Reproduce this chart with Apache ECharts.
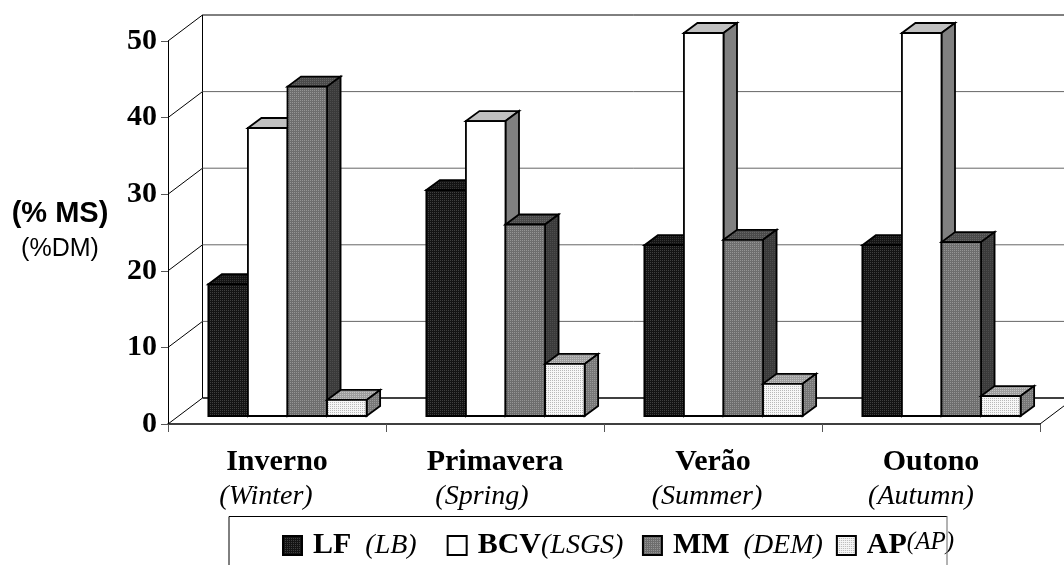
<!DOCTYPE html>
<html><head><meta charset="utf-8">
<style>html,body{margin:0;padding:0;background:#fff}#c{width:1064px;height:565px}</style>
<script src="https://cdn.jsdelivr.net/npm/echarts@6/dist/echarts.min.js"></script>
</head><body><div id="c"></div>
<script>
const seasons = ['Inverno','Primavera','Verão','Outono'];
const seasonsEn = ['(Winter)','(Spring)','(Summer)','(Autumn)'];
const tickValues = [0,10,20,30,40,50];
const LF  = [17.2,29.5,22.3,22.3];
const BCV = [37.6,38.5,50,50];
const MM  = [43,25,23,22.7];
const AP  = [2.1,6.8,4.2,2.6];

// dithered fill tiles
function tile(bg, dot){
  const c=document.createElement('canvas');c.width=2;c.height=2;
  const x=c.getContext('2d');x.fillStyle=bg;x.fillRect(0,0,2,2);
  x.fillStyle=dot;x.fillRect(0,0,1,1);
  return {image:c,repeat:'repeat'};
}
const looks = [
 {front:tile('#141414','#404040'), top:tile('#141414','#363636'), side:tile('#101010','#303030')},
 {front:'#ffffff', top:'#c0c0c0', side:'#808080'},
 {front:tile('#6e6e6e','#959595'), top:tile('#4a4a4a','#666'), side:tile('#3a3a3a','#4c4c4c')},
 {front:tile('#f6f6f6','#b8b8b8'), top:tile('#9c9c9c','#c4c4c4'), side:tile('#777','#999')}
];
const wallDx=34.5, wallDy=26, frontDx=10.5, frontDy=8, barDx=13.5, barDy=10, barShare=0.1815;

function barRender(idx){
  return function(params,api){
    const cat=api.value(0), v=api.value(1);
    const band=api.size([1,0])[0];
    const w=band*barShare;
    const base=api.coord([cat,0]), tp=api.coord([cat,v]);
    const x0=base[0]-2*w+frontDx+(idx*w), x1=x0+w, yb=base[1]-frontDy, yt=tp[1]-frontDy;
    const lk=looks[idx];
    const st=f=>({fill:f,stroke:'#000',lineWidth:1.8,lineJoin:'miter'});
    return {type:'group',children:[
      {type:'polygon',shape:{points:[[x0,yt],[x0+barDx,yt-barDy],[x1+barDx,yt-barDy],[x1,yt]]},style:st(lk.top)},
      {type:'polygon',shape:{points:[[x1,yt],[x1+barDx,yt-barDy],[x1+barDx,yb-barDy],[x1,yb]]},style:st(lk.side)},
      {type:'rect',shape:{x:x0,y:yt,width:w,height:yb-yt},style:st(lk.front)}
    ]};
  };
}
function wallRender(params,api){
  const v=api.value(0);
  const a=api.coord([0,v]);
  const left=params.coordSys.x, right=left+params.coordSys.width;
  const y=a[1];
  const kids=[
    {type:'line',shape:{x1:left,y1:y,x2:left+wallDx,y2:y-wallDy},style:{stroke:'#000',lineWidth:1}},
    {type:'line',shape:{x1:left+wallDx,y1:y-wallDy,x2:right+wallDx,y2:y-wallDy},
     style:{stroke:(v===0||v===50)?'#000':'#666',lineWidth:(v===0)?1.6:1}}
  ];
  if(v===0){
    kids.push({type:'line',shape:{x1:left+wallDx,y1:y-wallDy,x2:left+wallDx,y2:y-wallDy-params.coordSys.height},style:{stroke:'#000',lineWidth:1}});
    kids.push({type:'line',shape:{x1:right,y1:y,x2:right+wallDx,y2:y-wallDy},style:{stroke:'#000',lineWidth:1}});
  }
  return {type:'group',children:kids};
}
const names=['LF','BCV','MM','AP'];
const serie=[LF,BCV,MM,AP];
const seriesList=[{type:'custom',name:'wall',silent:true,clip:false,z:1,renderItem:wallRender,
   data:tickValues.map(v=>[v]),encode:{y:0}}];
names.forEach((n,i)=>seriesList.push({
  type:'custom',name:n,clip:false,z:2+i,silent:true,renderItem:barRender(i),
  itemStyle:{color:looks[i].front,borderColor:'#000',borderWidth:1},
  data:serie[i].map((v,k)=>[k,v]),encode:{x:0,y:1}
}));
const serif='"Liberation Serif"', sans='"Liberation Sans"';
const legendText={LF:'{b|LF}{i|  (LB)}{g1|     }',BCV:'{b|BCV}{i|(LSGS)}{g2|   }',MM:'{b|MM}{i|  (DEM)}{g3|  }',AP:'{b|AP}{s|(AP)}'};
const it={fontFamily:serif,fontStyle:'italic',fontSize:28,color:'#000'};
const chart=echarts.init(document.getElementById('c'),null,{renderer:'canvas'});
chart.setOption({
  animation:false,
  backgroundColor:'#fff',
  grid:{left:168,right:24,top:41,bottom:141,containLabel:false,outerBoundsMode:'none'},
  xAxis:{type:'category',data:seasons,
    axisLine:{lineStyle:{color:'#000',width:1.6}},
    axisTick:{show:true,length:8,lineStyle:{color:'#555',width:1}},
    axisLabel:{margin:23,fontFamily:serif,fontWeight:'bold',fontSize:30,color:'#000'}},
  yAxis:{type:'value',min:0,max:50,interval:10,
    splitLine:{show:false},
    axisLine:{show:true,lineStyle:{color:'#000',width:1}},
    axisTick:{show:true,length:7,lineStyle:{color:'#555',width:1}},
    axisLabel:{margin:11,fontFamily:serif,fontWeight:'bold',fontSize:30,color:'#000'},
    name:'{m|(% MS)}\n{d|(%DM)}',nameLocation:'middle',nameRotate:0,nameGap:108,
    nameTextStyle:{align:'center',padding:[0,0,5,0],rich:{
      m:{fontFamily:sans,fontWeight:'bold',fontSize:29,color:'#000',lineHeight:38,align:'center'},
      d:{fontFamily:sans,fontSize:25,color:'#000',lineHeight:32,align:'center'}}}},
  legend:{left:277,top:525,orient:'horizontal',icon:'rect',itemWidth:19,itemHeight:19,itemGap:5,
    data:names,
    formatter:n=>legendText[n],
    selectedMode:false,
    textStyle:{rich:{
      b:{fontFamily:serif,fontWeight:'bold',fontSize:30,color:'#000',padding:[0,0,0,6]},
      i:it,
      g1:{fontFamily:serif,fontSize:20},
      g2:{fontFamily:serif,fontSize:18},
      g3:{fontFamily:serif,fontSize:16},
      s:{...it,fontSize:25,padding:[0,0,6,0]}}}},
  graphic:[
    ...seasonsEn.map((t,i)=>({type:'text',x:[266,482,707,921][i],y:497,z:10,
      style:{text:t,fontFamily:serif,fontStyle:'italic',fontSize:28,fill:'#000',align:'center',verticalAlign:'middle'}})),
    {type:'polyline',z:10,shape:{points:[[229,565],[229,516.5],[947,516.5]]},style:{stroke:'#000',lineWidth:1,fill:null}},
    {type:'line',z:10,shape:{x1:947,y1:516,x2:947,y2:565},style:{stroke:'#666',lineWidth:1}}
  ],
  series:seriesList
});
</script></body></html>
